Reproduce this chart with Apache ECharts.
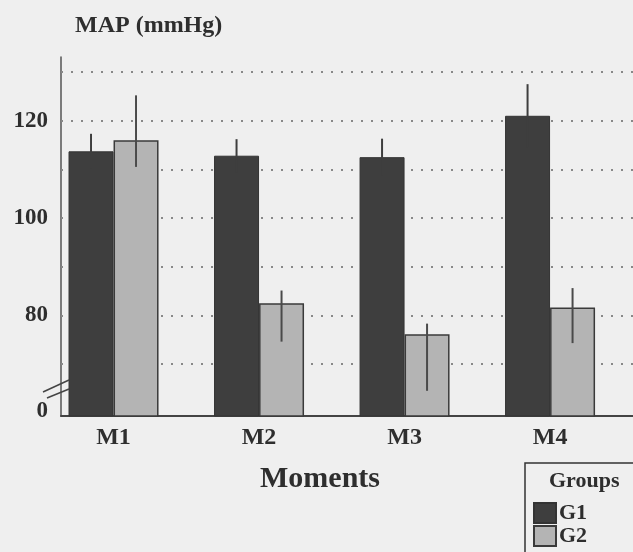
<!DOCTYPE html>
<html>
<head>
<meta charset="utf-8">
<script src="https://cdn.jsdelivr.net/npm/echarts@6/dist/echarts.min.js"></script>
<style>
  html, body { margin: 0; padding: 0; background: #efefef; }
  #chart { width: 633px; height: 552px; }
</style>
</head>
<body>
<div id="chart"></div>
<script>
// values (MAP, mmHg)
var moments = ['M1', 'M2', 'M3', 'M4'];
var groups = ['G1', 'G2'];
var g1Mean = [113.7, 112.8, 112.5, 121.0];
var g1Upper = [117.3, 116.2, 116.3, 127.5];
var g1Lower = [110.1, 109.4, 108.7, 114.5];
var g2Mean = [116.0, 82.5, 76.1, 81.6];
var g2Upper = [125.2, 85.1, 78.3, 85.6];
var g2Lower = [110.5, 74.6, 64.5, 74.3];
var gridValues = [70, 80, 90, 100, 110, 120, 130];
var yLabels = [60.4, 80, 100, 120];   // first one is the "0" below the axis break

var FONT = 'Liberation Serif';
var INK = '#2e2e2e';
var BAR_W = 45;

var chart = echarts.init(document.getElementById('chart'));

function barData(vals) {
	return vals.map(function (v, i) { return [i + 1, v]; });
}

function errData(lo, hi) {
	return lo.map(function (v, i) { return [i + 1, v, hi[i]]; });
}

// vertical error line, shifted onto its own bar
function errRenderer(offset, color) {
	return function (params, api) {
		var a = api.coord([api.value(0), api.value(1)]);
		var b = api.coord([api.value(0), api.value(2)]);
		return {
			type: 'line',
			shape: { x1: a[0] + offset, y1: a[1], x2: b[0] + offset, y2: b[1] },
			style: { stroke: color, lineWidth: 2 }
		};
	};
}

var option = {
	backgroundColor: '#efefef',
	animation: false,
	title: [
		{
			text: 'MAP (mmHg)', left: 75, top: 14, padding: 0,
			textStyle: { fontFamily: FONT, fontSize: 24, fontWeight: 'bold', color: INK }
		},
		{
			text: 'Groups', left: 549, top: 470, padding: 0,
			textStyle: { fontFamily: FONT, fontSize: 22, fontWeight: 'bold', color: INK }
		}
	],
	legend: {
		data: groups,
		orient: 'vertical',
		left: 525, top: 463,
		height: 80,
		padding: [39, 60, 30, 8],
		borderColor: '#333', borderWidth: 1.5,
		icon: 'rect',
		itemWidth: 22, itemHeight: 20, itemGap: 1,
		textStyle: { fontFamily: FONT, fontSize: 22, fontWeight: 'bold', color: INK, padding: [0, 0, 0, -2] }
	},
	grid: { left: 61, right: 0, top: 57, bottom: 136 },
	xAxis: {
		type: 'value',
		min: 0.639, max: 4.57,
		name: 'Moments',
		nameLocation: 'middle',
		nameGap: 48,
		nameTextStyle: { fontFamily: FONT, fontSize: 30, fontWeight: 'bold', color: INK, padding: [0, 54, 0, 0] },
		axisLine: { onZero: false, lineStyle: { color: '#444', width: 2 } },
		axisTick: { show: false },
		splitLine: { show: false },
		axisLabel: {
			customValues: [1, 2, 3, 4],
			margin: 10,
			fontFamily: FONT, fontSize: 24, fontWeight: 'bold', color: INK,
			formatter: function (v) { return moments[Math.round(v) - 1]; }
		}
	},
	yAxis: {
		type: 'value',
		min: 59.32, max: 133.08,
		axisLine: { show: true, onZero: false, lineStyle: { color: '#555', width: 1.5 } },
		axisTick: { show: false },
		splitLine: { show: false },
		axisLabel: {
			customValues: yLabels,
			margin: 13,
			fontFamily: FONT, fontSize: 23, fontWeight: 'bold', color: INK,
			formatter: function (v) { return v < 70 ? '0' : String(v); }
		}
	},
	graphic: [
		{ type: 'line', shape: { x1: 43, y1: 392, x2: 69, y2: 380 }, style: { stroke: '#444', lineWidth: 1.5 }, z: 100 },
		{ type: 'line', shape: { x1: 47, y1: 398, x2: 69, y2: 389 }, style: { stroke: '#444', lineWidth: 1.5 }, z: 100 }
	],
	series: [
		{
			name: 'grid',
			type: 'line',
			data: [],
			silent: true,
			markLine: {
				silent: true,
				symbol: 'none',
				z: 1,
				label: { show: false },
				lineStyle: { color: '#888', width: 2, type: [2, 8] },
				data: gridValues.map(function (v) { return { yAxis: v }; })
			}
		},
		{
			name: 'G1',
			type: 'bar',
			barWidth: BAR_W,
			barGap: '0%',
			z: 3,
			itemStyle: { color: '#3e3e3e', borderColor: '#333', borderWidth: 1 },
			data: barData(g1Mean)
		},
		{
			name: 'G2',
			type: 'bar',
			barWidth: BAR_W,
			barGap: '0%',
			z: 3,
			itemStyle: { color: '#b4b4b4', borderColor: '#3a3a3a', borderWidth: 1.5 },
			data: barData(g2Mean)
		},
		{
			name: 'G1 sd',
			type: 'custom',
			z: 4,
			renderItem: errRenderer(-BAR_W / 2, '#3e3e3e'),
			data: errData(g1Lower, g1Upper)
		},
		{
			name: 'G2 sd',
			type: 'custom',
			z: 4,
			renderItem: errRenderer(BAR_W / 2, '#4a4a4a'),
			data: errData(g2Lower, g2Upper)
		}
	]
};

chart.setOption(option);
</script>
</body>
</html>
